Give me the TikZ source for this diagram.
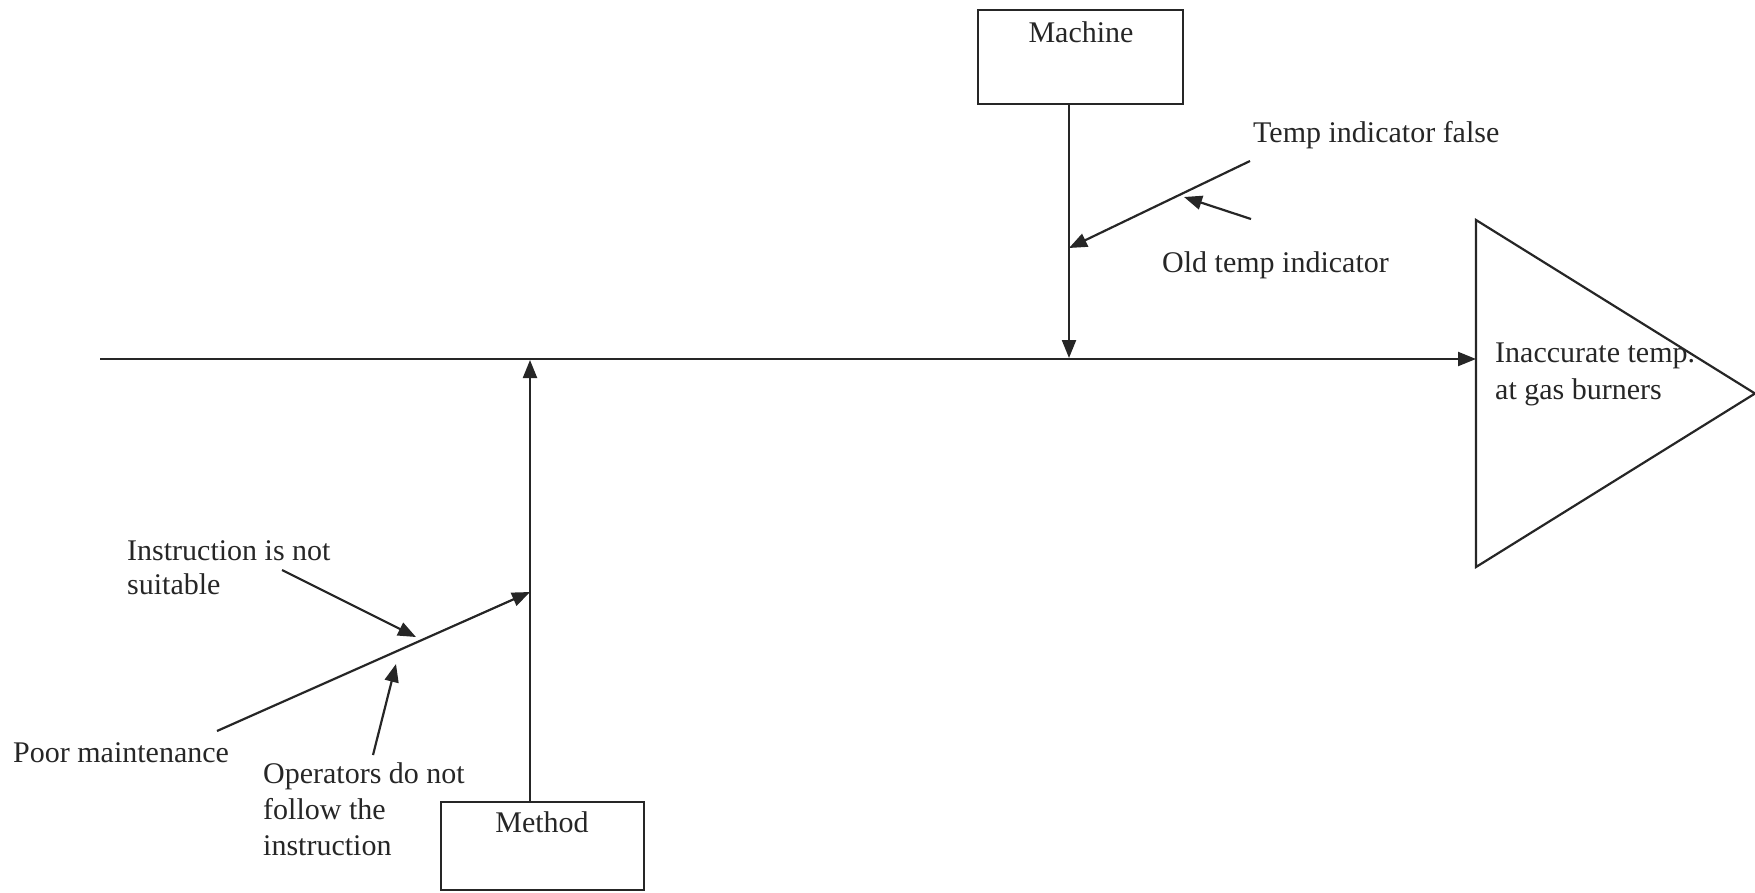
\documentclass[tikz,border=0pt]{standalone}
\usepackage{fontspec}
\setmainfont{Liberation Serif}
\usetikzlibrary{arrows.meta}
\begin{document}
\begin{tikzpicture}[x=1pt,y=-1pt,
  ln/.style={line width=2.2pt, draw=black!85},
  arr/.style={ln, -{Triangle[length=18pt,width=14pt]}},
  lbl/.style={font=\fontsize{30}{36}\selectfont, inner sep=0pt, align=left, text=black!85},
  catbox/.style={draw=black!85, line width=2.2pt, inner sep=0pt}
]
\useasboundingbox (0,0) rectangle (1755,892);

% category boxes
\node[catbox, anchor=north west, minimum width=205pt, minimum height=94pt] (machine) at (977,9) {};
\node[lbl, anchor=base] (machinetxt) at (1081,42) {Machine};
\node[catbox, anchor=north west, minimum width=203pt, minimum height=88pt] (method) at (440,801) {};
\node[lbl, anchor=base] (methodtxt) at (542,832) {Method};

% effect triangle
\coordinate (ta) at (1476,220);
\coordinate (tb) at (1755,393.5);
\coordinate (tc) at (1476,567);
\draw[ln, line join=miter] (ta) -- (tb) -- (tc) -- cycle;
\node[lbl, anchor=north west] (effect) at (1495,343) {Inaccurate temp.\\[1pt]at gas burners};

% spine
\coordinate (spine) at (100,359);
\coordinate (head) at (1476,359);
\draw[arr] (spine) -- (head);

% machine bone
\coordinate (mtip) at (1069,358);
\draw[arr] (machine.south -| mtip) -- (mtip);
\coordinate (m1s) at (1250,161);
\coordinate (m1e) at (1069,248);
\draw[arr] (m1s) -- (m1e);
\node[lbl, anchor=base west] (tif) at (1253,142) {Temp indicator false};
\coordinate (m2s) at (1251,219);
\coordinate (m2e) at (1184,197);
\draw[arr] (m2s) -- (m2e);
\node[lbl, anchor=base west] (oti) at (1162,272) {Old temp indicator};

% method bone
\coordinate (ttip) at (530,360);
\draw[arr] (method.north -| ttip) -- (ttip);
\coordinate (t1s) at (217,731);
\coordinate (t1e) at (530,592);
\draw[arr] (t1s) -- (t1e);
\node[lbl, anchor=base west] (poor) at (13,762) {Poor maintenance};
\coordinate (t2s) at (282,570);
\coordinate (t2e) at (416,637);
\draw[arr] (t2s) -- (t2e);
\node[lbl, anchor=north west] (instr) at (127,540) {Instruction is not\\[-2pt]suitable};
\coordinate (t3s) at (373,755);
\coordinate (t3e) at (396,664);
\draw[arr] (t3s) -- (t3e);
\node[lbl, anchor=north west] (oper) at (263,762) {Operators do not\\follow the\\instruction};
\end{tikzpicture}
\end{document}
